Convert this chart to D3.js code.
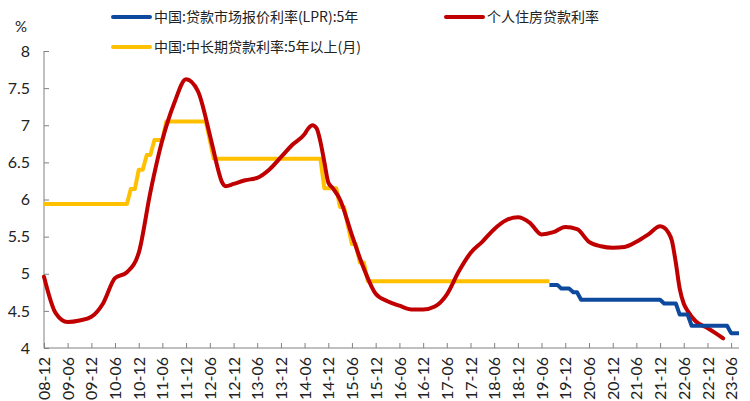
<!DOCTYPE html>
<html><head><meta charset="utf-8">
<script src="https://cdn.jsdelivr.net/npm/d3@7"></script>
<style>body{margin:0;background:#fff}</style>
</head><body>
<svg id="c" width="750" height="401"></svg>
<script>
// ---- data ----
const yTicks = [4, 4.5, 5, 5.5, 6, 6.5, 7, 7.5, 8];
const xTickLabels = ["08-12","09-06","09-12","10-06","10-12","11-06","11-12","12-06","12-12","13-06","13-12","14-06","14-12","15-06","15-12","16-06","16-12","17-06","17-12","18-06","18-12","19-06","19-12","20-06","20-12","21-06","21-12","22-06","22-12","23-06"];

const seriesNames = ["中国:贷款市场报价利率(LPR):5年", "个人住房贷款利率", "中国:中长期贷款利率:5年以上(月)"];

// LPR 5Y, monthly from 2019-08
const lprStart = "2019-08";
const lprValues = [4.85,4.85,4.85,4.80,4.80,4.80,4.75,4.75,4.65,4.65,4.65,4.65,4.65,4.65,4.65,4.65,4.65,4.65,4.65,4.65,4.65,4.65,4.65,4.65,4.65,4.65,4.65,4.65,4.65,4.60,4.60,4.60,4.60,4.45,4.45,4.45,4.30,4.30,4.30,4.30,4.30,4.30,4.30,4.30,4.30,4.30,4.20,4.20,4.20];

// Personal housing loan rate
const mortDates = ["2008-12","2009-03","2009-06","2009-09","2009-12","2010-03","2010-06","2010-09","2010-12","2011-03","2011-06","2011-09","2011-12","2012-03","2012-06","2012-07","2012-08","2012-09","2012-10","2012-12","2013-03","2013-06","2013-09","2013-12","2014-03","2014-06","2014-07","2014-08","2014-09","2014-10","2014-11","2014-12","2015-01","2015-03","2015-06","2015-09","2015-12","2016-03","2016-06","2016-09","2016-12","2017-03","2017-06","2017-09","2017-12","2018-03","2018-06","2018-09","2018-12","2019-03","2019-06","2019-09","2019-12","2020-03","2020-06","2020-09","2020-12","2021-03","2021-06","2021-09","2021-12","2022-01","2022-02","2022-03","2022-04","2022-05","2022-06","2022-07","2022-09","2022-12","2023-02","2023-04"];
const mortValues = [4.96,4.47,4.35,4.37,4.42,4.60,4.94,5.02,5.28,6.10,6.80,7.30,7.62,7.46,6.87,6.65,6.42,6.24,6.18,6.21,6.26,6.29,6.40,6.57,6.74,6.88,6.96,7.00,6.96,6.78,6.50,6.23,6.16,6.00,5.52,5.07,4.73,4.63,4.57,4.52,4.52,4.56,4.72,5.03,5.28,5.43,5.60,5.72,5.76,5.69,5.53,5.56,5.63,5.60,5.43,5.37,5.35,5.36,5.43,5.53,5.64,5.62,5.56,5.45,5.15,4.80,4.60,4.50,4.36,4.27,4.20,4.13];

// Benchmark 5Y+ loan rate (points at start and end of each flat level)
const benchDates = ["2008-12","2010-09","2010-10","2010-11","2010-12","2011-01","2011-02","2011-03","2011-04","2011-06","2011-07","2012-05","2012-06","2012-07","2014-10","2014-11","2015-02","2015-03","2015-04","2015-05","2015-06","2015-07","2015-08","2015-09","2015-10","2019-08"];
const benchValues = [5.94,5.94,6.14,6.14,6.40,6.40,6.60,6.60,6.80,6.80,7.05,7.05,6.80,6.55,6.55,6.15,6.15,5.90,5.90,5.65,5.40,5.40,5.15,5.15,4.90,4.90];

// ---- chart ----
const parse = d3.timeParse("%Y-%m");
const svg = d3.select("#c");
const colors = {lpr:"#0D4A9E", mort:"#C00000", bench:"#FFC000"};

const x = d3.scaleTime().domain([parse("2008-12"), parse("2023-08")]).range([44, 739]);
const y = d3.scaleLinear().domain([4, 8]).range([348, 51]);

const lprData = lprValues.map((v,i)=>({d:d3.timeMonth.offset(parse(lprStart), i), v}));
const mortData = mortDates.map((s,i)=>({d:parse(s), v:mortValues[i]}));
const benchData = benchDates.map((s,i)=>({d:parse(s), v:benchValues[i]}));

// axes
const xTickDates = xTickLabels.map(s=>parse("20"+s));
const xAxis = d3.axisBottom(x).tickValues(xTickDates).tickSize(-5).tickFormat(d3.timeFormat("%y-%m"));
const gx = svg.append("g").attr("transform","translate(0,348)").call(xAxis);
gx.select(".domain").attr("stroke","#808080").attr("d","M44,0H739");
gx.selectAll(".tick line").attr("stroke","#808080");
gx.selectAll(".tick text")
  .attr("font-family","Lato, 'Open Sans', sans-serif").attr("font-size",16).attr("fill","#222")
  .attr("transform","rotate(-90)").attr("text-anchor","end")
  .attr("x",-9).attr("y",0).attr("dy","0.35em").attr("dx",0);

const yAxis = d3.axisLeft(y).tickValues(yTicks).tickSize(-5).tickFormat(d=>d);
const gy = svg.append("g").attr("transform","translate(44,0)").call(yAxis);
gy.select(".domain").attr("stroke","#808080").attr("d","M0,51V348");
gy.selectAll(".tick line").attr("stroke","#808080");
gy.selectAll(".tick text").attr("font-family","Lato, 'Open Sans', sans-serif").attr("font-size",16).attr("fill","#222").attr("x",-14);

svg.append("text").attr("x",21).attr("y",32).attr("text-anchor","middle")
  .attr("font-family","Lato, 'Open Sans', sans-serif").attr("font-size",15).attr("fill","#222").text("%");

// lines
const line = d3.line().x(d=>x(d.d)).y(d=>y(d.v));
svg.append("path").datum(benchData).attr("d", line).attr("fill","none")
  .attr("stroke",colors.bench).attr("stroke-width",4).attr("stroke-linejoin","round");
svg.append("path").datum(mortData).attr("d", d3.line().x(d=>x(d.d)).y(d=>y(d.v)).curve(d3.curveMonotoneX)).attr("fill","none")
  .attr("stroke",colors.mort).attr("stroke-width",4).attr("stroke-linecap","round");
svg.append("path").datum(lprData).attr("d", line).attr("fill","none")
  .attr("stroke",colors.lpr).attr("stroke-width",4).attr("stroke-linejoin","round");

// legend
const legend = [
  {name:seriesNames[0], c:colors.lpr, x:113, y:17},
  {name:seriesNames[1], c:colors.mort, x:446, y:17},
  {name:seriesNames[2], c:colors.bench, x:113, y:47}
];
const lg = svg.append("g");
legend.forEach(l=>{
  lg.append("line").attr("x1",l.x).attr("x2",l.x+37).attr("y1",l.y).attr("y2",l.y)
    .attr("stroke",l.c).attr("stroke-width",4).attr("stroke-linecap","round");
  lg.append("text").attr("x",l.x+41).attr("y",l.y).attr("dy","0.35em")
    .attr("font-family","'Noto Sans CJK SC', sans-serif").attr("font-size",14).attr("fill","#222").text(l.name);
});
</script>
</body></html>
